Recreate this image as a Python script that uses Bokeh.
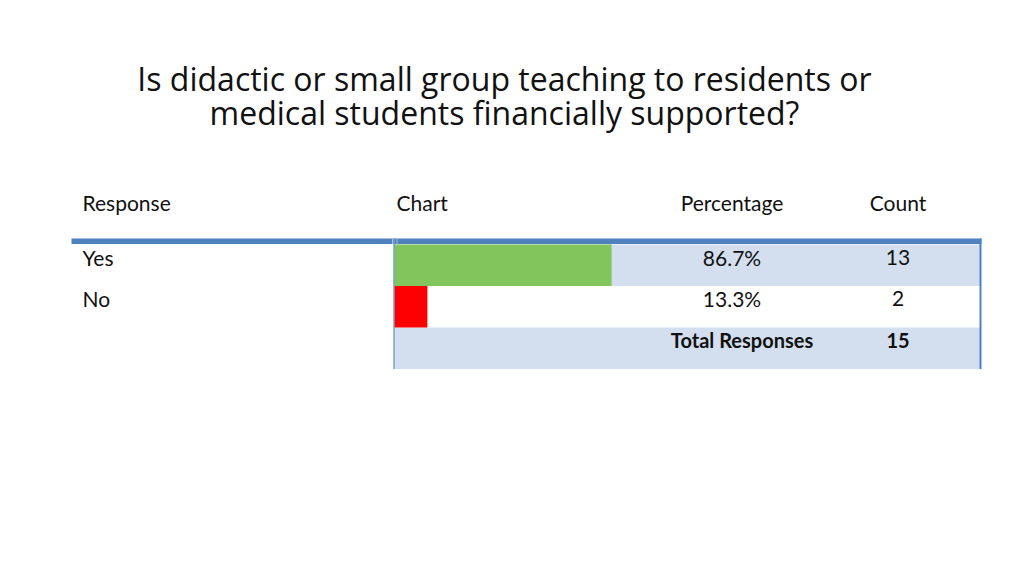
from bokeh.plotting import figure
from bokeh.models import Range1d
from bokeh.core.properties import value
from bokeh.embed import file_html
from bokeh.resources import INLINE

title_lines = ["Is didactic or small group teaching to residents or",
               "medical students financially supported?"]
headers = ["Response", "Chart", "Percentage", "Count"]
responses = ["Yes", "No"]
percentages = [86.7, 13.3]
counts = [13, 2]
total_label = "Total Responses"
total_count = 15
bar_colors = ["#82C55C", "#FF0000"]

# layout in screen pixels
W, H = 1008, 559
p = figure(width=W, height=H, x_range=Range1d(0, W), y_range=Range1d(H, 0),
           output_backend="svg", toolbar_location=None, min_border=0)
p.axis.visible = False
p.grid.visible = False
p.outline_line_color = None
p.background_fill_color = "white"

TITLE_FONT = value("Open Sans")
TABLE_FONT = value("Lato")

# title
p.text(x=[504, 504], y=[78, 112], text=title_lines, text_font=TITLE_FONT,
       text_font_size="32px", text_align="center", text_baseline="middle",
       text_color="#111111")

# columns
left_x = 82
chart_x0 = 393.5
chart_full = 251
table_right = 980
pct_x = 731.5
count_x = 897.5
row_top = 244
row_h = 41.5

# headers
p.text(x=[left_x, 396, pct_x, count_x], y=[202] * 4, text=headers,
       text_font=TABLE_FONT, text_font_size="21px", text_baseline="middle",
       text_align=["left", "left", "center", "center"], text_color="#111111")

# shaded rows (first response row and total row)
n = len(responses)
shade_rows = [0, n]
p.quad(left=[chart_x0] * len(shade_rows), right=[table_right] * len(shade_rows),
       top=[row_top + i * row_h for i in shade_rows],
       bottom=[row_top + (i + 1) * row_h for i in shade_rows],
       fill_color="#D3DFEE", line_color=None)

# bars
p.quad(left=[chart_x0] * n, right=[chart_x0 + v / 100 * chart_full for v in percentages],
       top=[row_top + i * row_h for i in range(n)],
       bottom=[row_top + (i + 1) * row_h for i in range(n)],
       fill_color=bar_colors, line_color=None)

# header rule and borders
p.quad(left=[71], right=[table_right + 1], top=[238], bottom=[243.5],
       fill_color="#4F81BD", line_color=None)
p.segment(x0=[392, 396.5], y0=[238, 238], x1=[392, 396.5], y1=[243.5, 243.5],
          line_color="#9DBBE0", line_width=1)
bottom = row_top + (n + 1) * row_h
p.segment(x0=[chart_x0, table_right], y0=[238, 238], x1=[chart_x0, table_right],
          y1=[bottom, bottom], line_color=["#7BA0CD", "#4F81BD"], line_width=[1.5, 2])

# row texts
row_mid = [row_top + (i + 0.5) * row_h - 8 for i in range(n)]
p.text(x=[left_x] * n, y=row_mid, text=responses, text_font=TABLE_FONT,
       text_font_size="21px", text_baseline="middle", text_color="#111111")
p.text(x=[pct_x] * n, y=row_mid, text=[f"{v:.1f}%" for v in percentages],
       text_font=TABLE_FONT, text_font_size="21px", text_align="center",
       text_baseline="middle", text_color="#111111")
p.text(x=[count_x] * n, y=row_mid, text=[str(c) for c in counts],
       text_font=TABLE_FONT, text_font_size="21px", text_align="center",
       text_baseline="middle", text_color="#111111")

# total row
total_mid = row_top + (n + 0.5) * row_h - 8
p.text(x=[741.5, count_x], y=[total_mid] * 2, text=[total_label, str(total_count)],
       text_font=TABLE_FONT, text_font_size="20px", text_font_style="bold",
       text_align="center", text_baseline="middle", text_color="#111111")

open("out.html", "w").write(file_html(p, INLINE))
